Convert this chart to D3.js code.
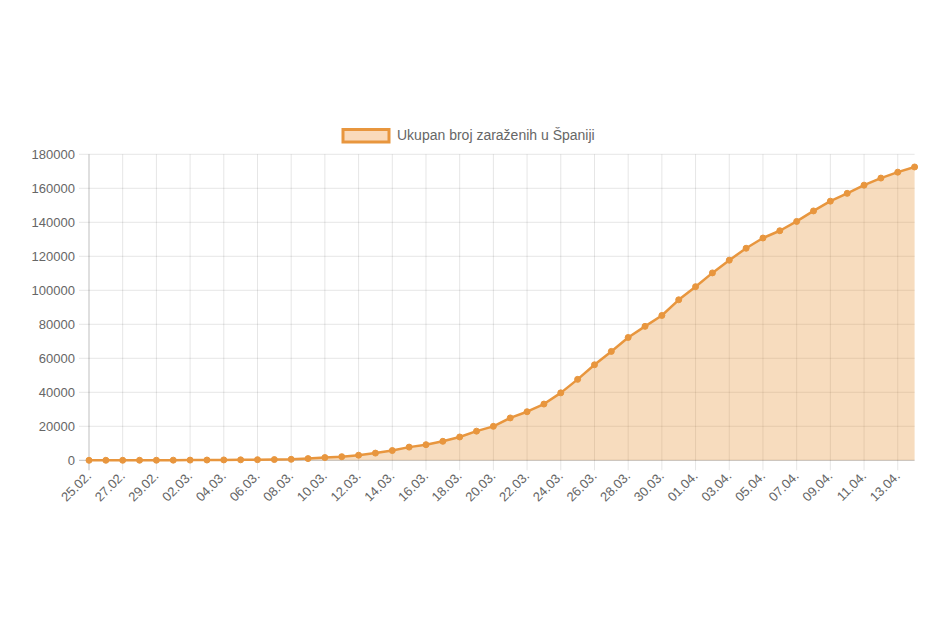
<!DOCTYPE html>
<html>
<head>
<meta charset="utf-8">
<script src="https://cdn.jsdelivr.net/npm/d3@7"></script>
<style>
  html, body { margin: 0; padding: 0; background: #fff; }
  svg { display: block; }
  text { font-family: "Liberation Sans", Arial, Helvetica, sans-serif; fill: #666; }
</style>
</head>
<body>
<svg id="chart" width="938" height="625"></svg>
<script>
const categories = ["25.02.","26.02.","27.02.","28.02.","29.02.","01.03.","02.03.","03.03.","04.03.","05.03.",
  "06.03.","07.03.","08.03.","09.03.","10.03.","11.03.","12.03.","13.03.","14.03.","15.03.",
  "16.03.","17.03.","18.03.","19.03.","20.03.","21.03.","22.03.","23.03.","24.03.","25.03.",
  "26.03.","27.03.","28.03.","29.03.","30.03.","31.03.","01.04.","02.04.","03.04.","04.04.",
  "05.04.","06.04.","07.04.","08.04.","09.04.","10.04.","11.04.","12.04.","13.04.","14.04."];
const values = [6,13,15,32,45,84,120,165,228,282,
  365,430,589,999,1622,2128,3004,4231,5753,7753,
  9191,11178,13716,17147,19980,24926,28572,33089,39673,47610,
  56188,64059,72248,78797,85195,94417,102136,110238,117710,124736,
  130759,135032,140510,146690,152446,157022,161852,166019,169496,172541];
const yTicks = [0,20000,40000,60000,80000,100000,120000,140000,160000,180000];
const seriesName = "Ukupan broj zaraženih u Španiji";

(function () {
const svg = d3.select("#chart");
const pLeft = 89, pRight = 914.6, pTop = 154.3, pBottom = 460.3;
const x = d3.scalePoint().domain(categories).range([pLeft, pRight]);
const y = d3.scaleLinear().domain([0, 180000]).range([pBottom, pTop]);

const lineColor = "rgb(232,150,62)";
const fillColor = "rgba(230,140,40,0.3)";
const labelled = categories.filter((d, i) => i % 2 === 0);
const font = "Liberation Sans, Arial, sans-serif";

const g = svg.append("g");
yTicks.forEach(t => {
  g.append("line")
    .attr("x1", pLeft - 10).attr("x2", pRight)
    .attr("y1", y(t)).attr("y2", y(t))
    .attr("stroke", t === 0 ? "rgba(0,0,0,0.25)" : "rgba(0,0,0,0.1)")
    .attr("stroke-width", 1);
});
labelled.forEach((c, i) => {
  g.append("line")
    .attr("x1", x(c)).attr("x2", x(c))
    .attr("y1", pTop).attr("y2", pBottom + 10)
    .attr("stroke", i === 0 ? "rgba(0,0,0,0.25)" : "rgba(0,0,0,0.1)")
    .attr("stroke-width", 1);
});

const yAxis = d3.axisLeft(y).tickValues(yTicks).tickSize(0).tickPadding(0).tickFormat(d3.format("d"));
const ya = svg.append("g").attr("transform", `translate(${pLeft - 14},0)`).call(yAxis);
ya.select(".domain").remove();
ya.selectAll("text").attr("font-size", 13).attr("fill", "#666").attr("font-family", font);

const xAxis = d3.axisBottom(x).tickValues(labelled).tickSize(0).tickPadding(0);
const xa = svg.append("g").attr("transform", `translate(0,${pBottom + 10})`).call(xAxis);
xa.select(".domain").remove();
xa.selectAll("text")
  .attr("font-size", 13).attr("fill", "#666").attr("font-family", font)
  .attr("text-anchor", "end")
  .attr("dy", null).attr("y", 0)
  .attr("transform", "translate(2.5,6.5) rotate(-45)");

const data = categories.map((c, i) => ({c, v: values[i]}));
svg.append("path").datum(data)
  .attr("fill", fillColor)
  .attr("d", d3.area().x(d => x(d.c)).y0(y(0)).y1(d => y(d.v)));
svg.append("path").datum(data)
  .attr("fill", "none").attr("stroke", lineColor).attr("stroke-width", 2.5)
  .attr("stroke-linejoin", "round")
  .attr("d", d3.line().x(d => x(d.c)).y(d => y(d.v)));
svg.append("g").selectAll("circle").data(data).join("circle")
  .attr("cx", d => x(d.c)).attr("cy", d => y(d.v)).attr("r", 3)
  .attr("fill", lineColor).attr("stroke", lineColor).attr("stroke-width", 1);

svg.append("rect").attr("x", 343).attr("y", 129.5).attr("width", 46).attr("height", 12.5)
  .attr("fill", "rgba(240,150,60,0.35)").attr("stroke", lineColor).attr("stroke-width", 3);
svg.append("text").attr("x", 397).attr("y", 136).attr("dominant-baseline", "middle")
  .attr("font-size", 14).attr("font-family", font).text(seriesName);
})();
</script>
</body>
</html>
